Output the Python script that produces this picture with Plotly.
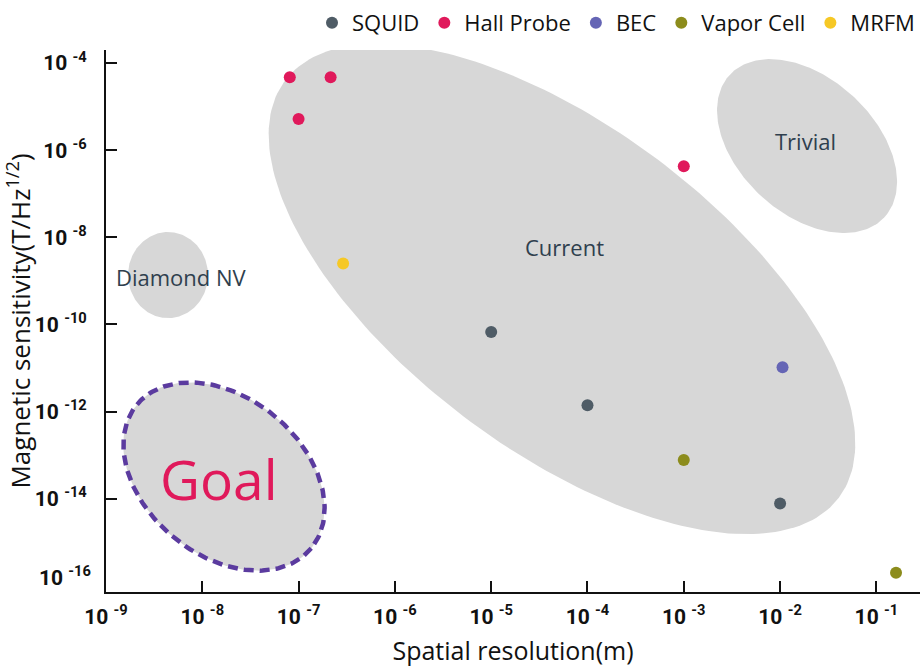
import numpy as np
import plotly.graph_objects as go

# ---------------- data ----------------
squid_res = [1.0e-5, 1.0e-4, 1.0e-2]
squid_sens = [6.7e-11, 1.4e-12, 7.8e-15]
hall_res = [8.1e-8, 2.15e-7, 1.0e-7, 1.0e-3]
hall_sens = [4.7e-5, 4.7e-5, 5.2e-6, 4.3e-7]
bec_res = [1.06e-2]
bec_sens = [1.04e-11]
vapor_res = [1.0e-3, 1.6e-1]
vapor_sens = [7.8e-14, 2.0e-16]
mrfm_res = [2.9e-7]
mrfm_sens = [2.5e-9]

series_names = ["SQUID", "Hall Probe", "BEC", "Vapor Cell", "MRFM"]

x_tick_exps = [-9, -8, -7, -6, -5, -4, -3, -2, -1]
y_tick_exps = [-4, -6, -8, -10, -12, -14]
y_extra_exp = -16

# regions (log10 centre, semi-axes in x-decades, tilt in degrees)
region_names = ["Current", "Trivial", "Diamond NV", "Goal"]
region_cx = [-4.265, -1.72, -8.356, -7.775]
region_cy = [-9.187, -5.905, -8.866, -13.49]
region_a = [3.60, 1.092, 0.415, 1.173]
region_b = [1.672, 0.705, 0.447, 0.82]
region_tilt = [37.0, 42.6, 0.0, 39.4]
# label anchor points (log10)
label_x = [-4.234, -1.741, -8.221, -7.827]
label_y = [-8.223, -5.79, -8.91, -13.525]

# ---------------- styling ----------------
colors = ["#4f5c66", "#e0195b", "#6565b5", "#8c8c1c", "#f6c825"]
region_fill = "#d7d7d7"
label_color = "#2f3f4e"
goal_color = "#e0195b"
goal_border = "#5b3b9f"
TICKFONT = "Liberation Sans Narrow, Roboto, Arial, sans-serif"
TEXTFONT = "Open Sans, Noto Sans, sans-serif"
TICKSIZE = 21

W, H = 920, 671
ML, MR, MT, MB = 106, 0, 50, 79
x_range = [-9.0, -0.547]
y_range = [-16.14, -3.70]
px_x = (W - ML - MR) / (x_range[1] - x_range[0])
px_y = (H - MT - MB) / (y_range[1] - y_range[0])
S = px_x / px_y

fig = go.Figure()

t = np.linspace(0, 2 * np.pi, 240)
for i, name in enumerate(region_names):
    th = np.radians(region_tilt[i])
    u = region_a[i] * np.cos(t)
    v = region_b[i] * np.sin(t)
    dx = u * np.cos(th) - v * np.sin(th)
    dys = u * np.sin(th) + v * np.cos(th)
    lx = region_cx[i] + dx
    ly = region_cy[i] - dys * S
    is_goal = name == "Goal"
    fig.add_trace(go.Scatter(
        x=10 ** lx, y=10 ** ly, mode="lines", fill="toself",
        fillcolor=region_fill,
        line=dict(color=goal_border if is_goal else region_fill,
                  width=4.5 if is_goal else 0,
                  dash="10px,6px" if is_goal else "solid"),
        hoverinfo="skip", showlegend=False, name=name,
    ))

series = [(squid_res, squid_sens), (hall_res, hall_sens), (bec_res, bec_sens),
          (vapor_res, vapor_sens), (mrfm_res, mrfm_sens)]
for (xs, ys), name, c in zip(series, series_names, colors):
    fig.add_trace(go.Scatter(
        x=xs, y=ys, mode="markers", name=name,
        marker=dict(color=c, size=12, line=dict(width=0)),
    ))

annotations = []
for i, name in enumerate(region_names):
    is_goal = name == "Goal"
    annotations.append(dict(
        x=label_x[i], y=label_y[i], xref="x", yref="y", text=name,
        showarrow=False,
        font=dict(family=TEXTFONT, size=55 if is_goal else 22,
                  color=goal_color if is_goal else label_color),
    ))
annotations.append(dict(
    x=0, xref="paper", y=y_extra_exp + 0.23, yref="y",
    text=f"10 <sup>{y_extra_exp}</sup>", showarrow=False,
    xanchor="right", yanchor="middle", xshift=-13,
    font=dict(family=TICKFONT, size=TICKSIZE, color="#111111", weight="bold"),
))

fig.update_layout(
    width=W, height=H,
    margin=dict(l=ML, r=MR, t=MT, b=MB),
    paper_bgcolor="white", plot_bgcolor="white",
    annotations=annotations,
    legend=dict(orientation="h", x=1.0, xanchor="right", y=1.05, yanchor="middle",
                font=dict(family=TEXTFONT, size=22, color="#111111"),
                bgcolor="rgba(0,0,0,0)", itemclick=False),
)

fig.update_xaxes(
    type="log", range=x_range, showgrid=False, zeroline=False,
    showline=True, linecolor="#111111", linewidth=2,
    ticks="inside", ticklen=11, tickwidth=2, tickcolor="#111111",
    tickvals=[10.0 ** e for e in x_tick_exps],
    ticktext=[f"10 <sup>{e}</sup>" for e in x_tick_exps],
    tickfont=dict(family=TICKFONT, size=TICKSIZE, color="#111111", weight="bold"),
    ticklabelstandoff=5,
    title=dict(text="Spatial resolution(m)", standoff=14,
               font=dict(family=TEXTFONT, size=25, color="#111111")),
)
fig.update_yaxes(
    type="log", range=y_range, showgrid=False, zeroline=False,
    showline=True, linecolor="#111111", linewidth=2,
    ticks="inside", ticklen=11, tickwidth=2, tickcolor="#111111",
    tickvals=[10.0 ** e for e in y_tick_exps],
    ticktext=[f"10 <sup>{e}</sup>" for e in y_tick_exps],
    tickfont=dict(family=TICKFONT, size=TICKSIZE, color="#111111", weight="bold"),
    ticklabelstandoff=13,
    title=dict(text="Magnetic sensitivity(T/Hz<sup>1/2</sup>)", standoff=5,
               font=dict(family=TEXTFONT, size=26, color="#111111")),
)

fig.write_html("out.html")
